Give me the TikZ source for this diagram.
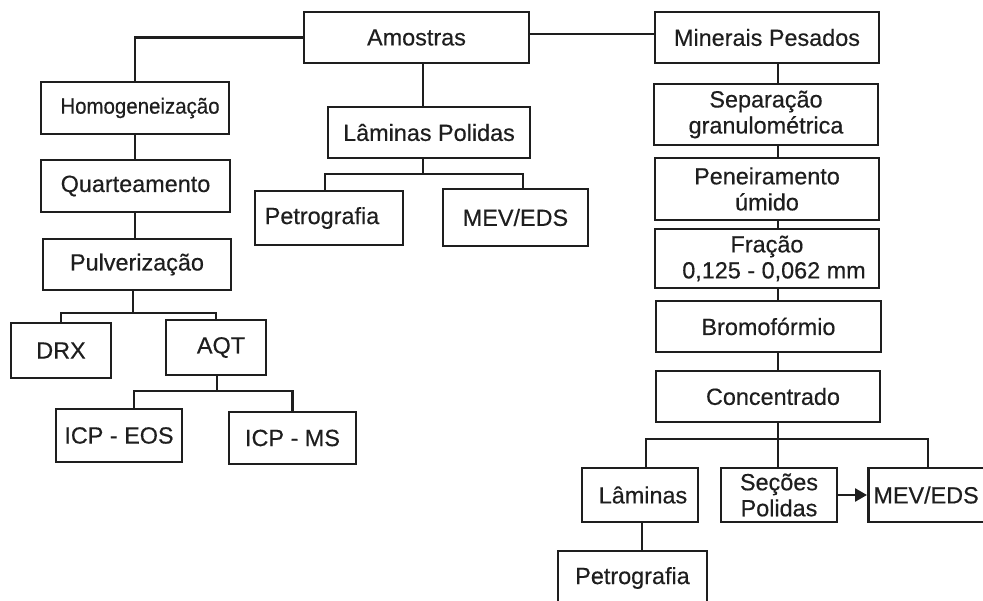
\documentclass[tikz,border=0pt]{standalone}
\usepackage{fontspec}
\setmainfont{Liberation Sans}[FakeBold=0.4]
\usetikzlibrary{arrows.meta,calc}
\definecolor{ink}{HTML}{1E1E1E}
\newcommand{\fsz}{\fontsize{23.4}{26}\selectfont}
\begin{document}
\begin{tikzpicture}[x=1pt,y=-1pt,
  box/.style={draw=ink, line width=2.8pt, inner sep=0pt, align=center, font=\fsz, text=ink},
  conn/.style={draw=ink, line width=2.5pt},
]
\fill[white] (0,0) rectangle (983,601);
\clip (0,0) rectangle (983,601);

% left branch
\node[box, minimum width=225, minimum height=51] (amo) at (416.5,37.5) {Amostras};
\node[box, minimum width=188, minimum height=52] (hom) at (135,108) {\hspace*{10pt}\scalebox{0.93}[1]{\fontsize{22}{25}\selectfont Homogeneização}};
\node[box, minimum width=189, minimum height=52] (qua) at (135.5,186) {Quarteamento};
\node[box, minimum width=188, minimum height=51] (pul) at (137,264.5) {Pulverização};
\node[box, minimum width=100, minimum height=55] (drx) at (61,350.5) {DRX};
\node[box, minimum width=100, minimum height=55] (aqt) at (216,347.5) {\hspace*{10pt}AQT};
\node[box, minimum width=126, minimum height=53] (eos) at (119,435.5) {ICP - EOS};
\node[box, minimum width=127, minimum height=52] (ims) at (292.5,438) {ICP - MS};

% middle branch
\node[box, minimum width=202, minimum height=51] (lam) at (429,132.5) {Lâminas Polidas};
\node[box, minimum width=148, minimum height=54] (pet) at (329,218) {\hspace*{-14pt}Petrografia};
\node[box, minimum width=145, minimum height=57] (mev1) at (515.5,217.5) {MEV/EDS};

% right branch
\node[box, minimum width=224, minimum height=51] (min) at (767,37.5) {Minerais Pesados};
\node[box, minimum width=224, minimum height=61] (sep) at (766,114.5) {Separação\\granulométrica};
\node[box, minimum width=224, minimum height=62] (pen) at (767,189) {Peneiramento\\úmido};
\node[box, minimum width=224, minimum height=59] (fra) at (767,258.5) {Fração\\\hspace*{14pt}0,125 - 0,062 mm};
\node[box, minimum width=225, minimum height=51] (bro) at (768.5,326.5) {Bromofórmio};
\node[box, minimum width=224, minimum height=51] (con) at (768,396.5) {\hspace*{10pt}Concentrado};
\node[box, minimum width=116, minimum height=54] (lam2) at (640,495) {\hspace*{6pt}Lâminas};
\node[box, minimum width=116, minimum height=54] (sec) at (779,495) {Seções\\Polidas};
\node[box, minimum height=54, anchor=west] (mev2) at (867,495) {\makebox[133pt][l]{\hspace{5pt}MEV/EDS}};
\node[box, minimum width=149, minimum height=54] (pet2) at (632.5,578) {Petrografia};

% bus coordinates
\coordinate (vl) at (135,0);
\coordinate (pb) at (133,313);
\coordinate (ab) at (217,391);
\coordinate (eosx) at (134,0);
\coordinate (lb) at (423,174);
\coordinate (petx) at (325,0);
\coordinate (mevx) at (523,0);
\coordinate (ty) at (0,34);
\coordinate (rv) at (778,0);
\coordinate (cb) at (778,439);
\coordinate (l2x) at (646,0);
\coordinate (m2x) at (928,0);
\coordinate (p2x) at (642,0);

% left connectors
\draw[conn] (amo.west) -| (hom.north);
\draw[conn] (vl |- hom.south) -- (vl |- qua.north);
\draw[conn] (vl |- qua.south) -- (vl |- pul.north);
\draw[conn] (pb |- pul.south) -- (pb);
\draw[conn] (drx.north) -- (drx.north |- pb) -- (aqt.north |- pb) -- (aqt.north);
\draw[conn] (ab |- aqt.south) -- (ab);
\draw[conn] (eosx |- eos.north) -- (eosx |- ab) -- (ims.north |- ab) -- (ims.north);

% middle connectors
\draw[conn] (lb |- amo.south) -- (lb |- lam.north);
\draw[conn] (lb |- lam.south) -- (lb);
\draw[conn] (petx |- pet.north) -- (petx |- lb) -- (mevx |- lb) -- (mevx |- mev1.north);

% right connectors
\draw[conn] (amo.east |- ty) -- (min.west |- ty);
\draw[conn] (rv |- min.south) -- (rv |- sep.north);
\draw[conn] (rv |- sep.south) -- (rv |- pen.north);
\draw[conn] (rv |- pen.south) -- (rv |- fra.north);
\draw[conn] (rv |- fra.south) -- (rv |- bro.north);
\draw[conn] (rv |- bro.south) -- (rv |- con.north);
\draw[conn] (rv |- con.south) -- (cb);
\draw[conn] (l2x |- lam2.north) -- (l2x |- cb) -- (m2x |- cb) -- (m2x |- mev2.north);
\draw[conn] (cb) -- (rv |- sec.north);
\draw[conn, -{Triangle[length=12pt,width=13pt]}] (sec.east) -- (mev2.west);
\draw[conn] (p2x |- lam2.south) -- (p2x |- pet2.north);
\end{tikzpicture}
\end{document}
